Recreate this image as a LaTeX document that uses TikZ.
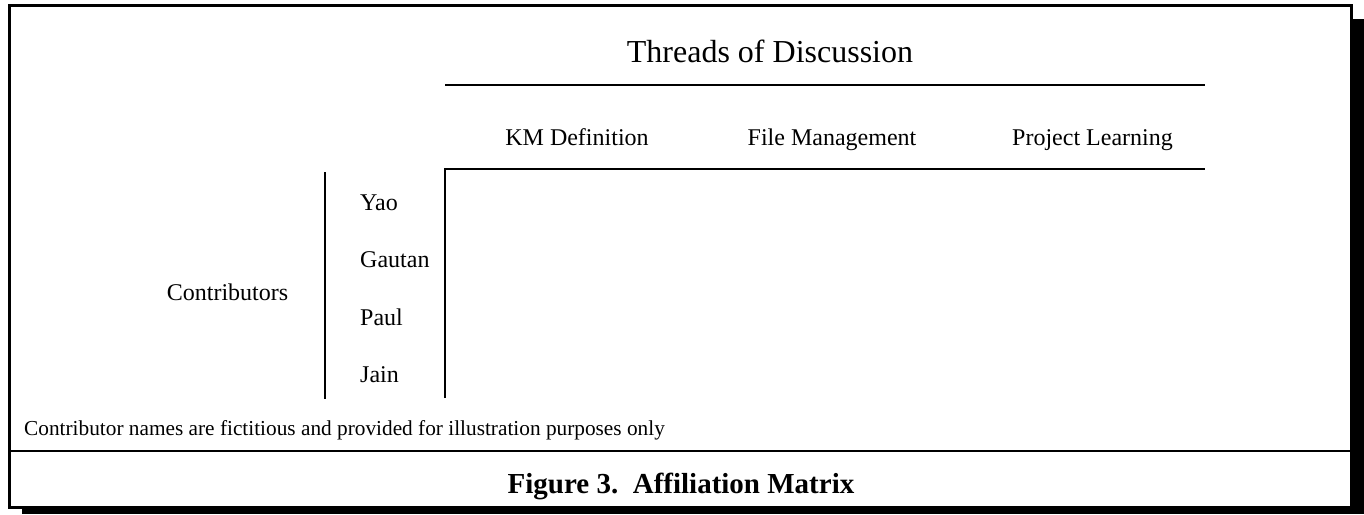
\documentclass[tikz,border=0pt]{standalone}
\usepackage{fontspec}
\setmainfont{Liberation Serif}
\begin{document}
\begin{tikzpicture}[x=1pt,y=-1pt,
  lbl/.style={inner sep=0pt,anchor=base,font=\fontsize{24}{28}\selectfont},
  rule/.style={line width=2pt},
  frameline/.style={line width=3pt}]
\useasboundingbox (0,0) rectangle (1364,514);
% shadow and frame
\fill[black] (22,19) rectangle (1364,514);
\draw[frameline,fill=white] (9.5,5.5) rectangle (1351,507);
\coordinate (sepL) at (9.5,450.5);
\coordinate (sepR) at (1351,450.5);
\draw[rule] (sepL) -- (sepR);
% header
\node[lbl,font=\fontsize{32}{36}\selectfont] (threads) at (770,62) {Threads of Discussion};
\coordinate (h1L) at (445,84.5);
\coordinate (h1R) at (1205,84.5);
\draw[rule] (h1L) -- (h1R);
\node[lbl] (km) at (577,145) {KM Definition};
\node[lbl] (fm) at (832,145) {File Management};
\node[lbl] (pl) at (1092.5,145) {Project Learning};
\coordinate (h2B) at (445,398);
\coordinate (h2C) at (445,168.5);
\coordinate (h2R) at (1205,168.5);
\draw[rule] (h2B) -- (h2C) -- (h2R);
% contributors
\node[lbl] (contrib) at (227.5,300) {Contributors};
\coordinate (vT) at (325,172);
\coordinate (vB) at (325,399);
\draw[rule] (vT) -- (vB);
\node[lbl,anchor=base west] (yao) at (360,210) {Yao};
\node[lbl,anchor=base west] (gautan) at (360,267.5) {Gautan};
\node[lbl,anchor=base west] (paul) at (360,325) {Paul};
\node[lbl,anchor=base west] (jain) at (360,382) {Jain};
% footnote and caption
\node[lbl,anchor=base west,font=\fontsize{21.3}{25}\selectfont] (note) at (24,435) {Contributor names are fictitious and provided for illustration purposes only};
\node[lbl,font=\bfseries\fontsize{29}{33}\selectfont] (caption) at (681,493) {Figure 3.\ \ Affiliation Matrix};
\end{tikzpicture}
\end{document}
